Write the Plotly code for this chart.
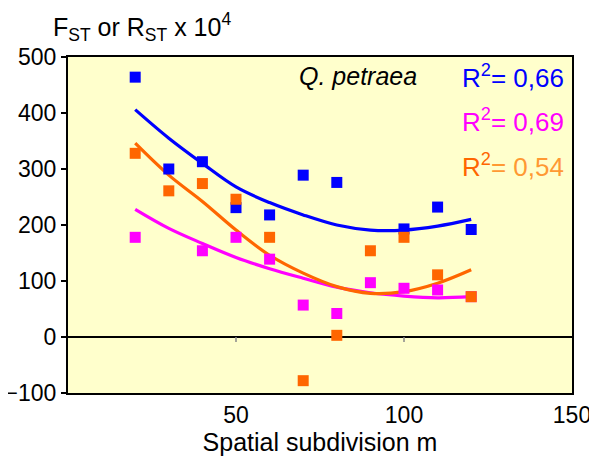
import plotly.graph_objects as go

x_vals = [20, 30, 40, 50, 60, 70, 80, 90, 100, 110, 120]

blue_x = [20, 30, 40, 50, 60, 70, 80, 100, 110, 120]
blue_y = [464, 300, 313, 231, 218, 289, 276, 193, 232, 192]

orange_x = [20, 30, 40, 50, 60, 70, 80, 90, 100, 110, 120]
orange_y = [328, 261, 274, 246, 178, -78, 3, 154, 178, 111, 72]

magenta_x = [20, 40, 50, 60, 70, 80, 90, 100, 110, 120]
magenta_y = [178, 154, 178, 139, 57, 42, 97, 87, 84, 72]

blue_trend = [406, 355, 310, 268, 240, 218, 200, 191, 191, 198, 210]
magenta_trend = [228, 194, 167, 142, 122, 105, 89, 79, 73, 70, 72]
orange_trend = [346, 289, 242, 191, 146, 114, 90, 78, 81, 96, 120]

r2_labels = ["0,66", "0,69", "0,54"]
x_ticks = [50, 100, 150]
y_ticks = [-100, 0, 100, 200, 300, 400, 500]

BLUE = "#0000FF"
MAG = "#FF00FF"
ORG = "#FF6600"
ORG_LIGHT = "#FF9933"
FONT = "Arial, 'Liberation Sans', sans-serif"

fig = go.Figure()

for tx, ty, col in [(x_vals, blue_trend, BLUE), (x_vals, magenta_trend, MAG), (x_vals, orange_trend, ORG)]:
    fig.add_trace(go.Scatter(x=tx, y=ty, mode="lines", line=dict(color=col, width=3.2, shape="spline"),
                             showlegend=False, hoverinfo="skip"))

for px, py, col in [(blue_x, blue_y, BLUE), (magenta_x, magenta_y, MAG), (orange_x, orange_y, ORG)]:
    fig.add_trace(go.Scatter(x=px, y=py, mode="markers",
                             marker=dict(symbol="square", size=11, color=col, line=dict(width=0)),
                             showlegend=False))

# small tick marks on the zero line
for xt in [50, 100]:
    fig.add_shape(type="line", x0=xt, x1=xt, y0=0, y1=-9, xref="x", yref="y",
                  line=dict(color="#888888", width=1.5))

# page body has an 8px margin: keep the figure inside the window without scrollbars
fig.update_layout(
    width=589, height=450,
    margin=dict(l=60, r=25, t=49, b=65),
    paper_bgcolor="white",
    plot_bgcolor="#FFFFCC",
    font=dict(family=FONT, color="black", size=24),
    xaxis=dict(range=[0, 150], tickvals=x_ticks, ticks="", showgrid=False, zeroline=False,
               showline=True, linecolor="black", linewidth=2, mirror=True, automargin=False,
               ticklabeloverflow="allow",
               tickfont=dict(family=FONT, size=23),
               title=dict(text="Spatial subdivision m", font=dict(family=FONT, size=25), standoff=2)),
    yaxis=dict(range=[-100, 500], tickvals=y_ticks, ticks="outside", ticklen=5, tickcolor="black",
               tickwidth=1.5, showgrid=False, zeroline=True, zerolinecolor="black", zerolinewidth=1.5,
               showline=True, linecolor="black", linewidth=2, mirror=True, automargin=False,
               ticklabeloverflow="allow",
               tickfont=dict(family=FONT, size=23)),
    annotations=[
        dict(text="F<sub>ST</sub> or R<sub>ST</sub> x 10<sup>4</sup>", xref="paper", yref="paper",
             x=-0.034, y=1.088, xanchor="left", yanchor="middle", showarrow=False,
             font=dict(family=FONT, size=25)),
        dict(text="<i>Q. petraea</i>", xref="paper", yref="paper", x=0.696, y=0.943,
             xanchor="right", yanchor="middle", showarrow=False, font=dict(family=FONT, size=25)),
        dict(text=f"R<sup>2</sup>= {r2_labels[0]}", xref="paper", yref="paper", x=0.988, y=0.943,
             xanchor="right", yanchor="middle", showarrow=False, font=dict(family=FONT, size=26, color=BLUE)),
        dict(text=f"R<sup>2</sup>= {r2_labels[1]}", xref="paper", yref="paper", x=0.988, y=0.81,
             xanchor="right", yanchor="middle", showarrow=False, font=dict(family=FONT, size=26, color=MAG)),
        dict(text=f"<span style='color:{ORG}'>R<sup>2</sup></span>= {r2_labels[2]}", xref="paper", yref="paper",
             x=0.988, y=0.676, xanchor="right", yanchor="middle", showarrow=False,
             font=dict(family=FONT, size=26, color=ORG_LIGHT)),
    ],
)

fig.write_html("out.html")
